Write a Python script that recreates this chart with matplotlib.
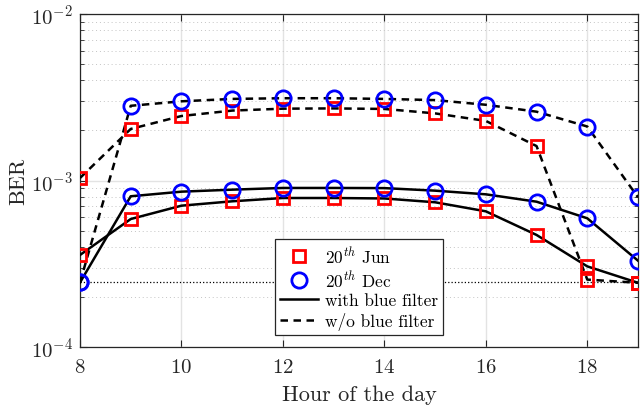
import matplotlib
matplotlib.use("Agg")
import matplotlib.pyplot as plt
import numpy as np
from matplotlib.ticker import LogLocator, NullFormatter, FixedLocator
from matplotlib.lines import Line2D

plt.rcParams['font.family'] = ['cmr10', 'DejaVu Serif']
plt.rcParams['mathtext.fontset'] = 'cm'
plt.rcParams['axes.unicode_minus'] = False
plt.rcParams['axes.formatter.use_mathtext'] = True

hours = [8, 9, 10, 11, 12, 13, 14, 15, 16, 17, 18, 19]
jun_with = [3.57e-4, 5.87e-4, 7.06e-4, 7.50e-4, 7.85e-4, 7.85e-4, 7.80e-4, 7.40e-4, 6.53e-4, 4.71e-4, 3.05e-4, 2.43e-4]
jun_without = [1.035e-3, 2.04e-3, 2.44e-3, 2.63e-3, 2.70e-3, 2.71e-3, 2.69e-3, 2.53e-3, 2.28e-3, 1.61e-3, 2.54e-4, 2.43e-4]
dec_with = [2.44e-4, 8.04e-4, 8.57e-4, 8.81e-4, 9.02e-4, 9.02e-4, 9.0e-4, 8.69e-4, 8.26e-4, 7.46e-4, 5.93e-4, 3.30e-4]
dec_without = [2.44e-4, 2.81e-3, 2.99e-3, 3.09e-3, 3.12e-3, 3.12e-3, 3.09e-3, 3.04e-3, 2.85e-3, 2.59e-3, 2.11e-3, 7.93e-4]
threshold = 2.44e-4
xticks = [8, 10, 12, 14, 16, 18]
legend_labels = [r'$20^{th}$ Jun', r'$20^{th}$ Dec', 'with blue filter', 'w/o blue filter']

fig = plt.figure(figsize=(6.4, 4.1), dpi=100)
ax = fig.add_axes([80/640, 1-348/410, 558/640, 333/410])

lw = 1.8
dash = (0, (3.0, 2.2))
ax.plot(hours, [threshold]*len(hours), color='black', ls=':', lw=0.9, zorder=2)

ax.plot(hours, jun_with, color='black', lw=lw, zorder=3)
ax.plot(hours, dec_with, color='black', lw=lw, zorder=3)
ax.plot(hours, jun_without, color='black', lw=lw, ls=dash, zorder=3)
ax.plot(hours, dec_without, color='black', lw=lw, ls=dash, zorder=3)

msq = dict(marker='s', ms=8.5, mfc='none', mec='#ff0000', mew=2, ls='none', zorder=4)
mci = dict(marker='o', ms=11, mfc='none', mec='#0000ff', mew=2, ls='none', zorder=4)
for series in (jun_with, jun_without):
    ax.plot(hours, series, **msq)
for series in (dec_with, dec_without):
    ax.plot(hours, series, **mci)

ax.set_yscale('log')
ax.set_xlim(8, 19)
ax.set_ylim(1e-4, 1e-2)
ax.xaxis.set_major_locator(FixedLocator(xticks))
ax.yaxis.set_major_locator(LogLocator(base=10, numticks=5))
ax.yaxis.set_minor_locator(LogLocator(base=10, subs=np.arange(2, 10), numticks=20))
ax.yaxis.set_minor_formatter(NullFormatter())

ax.grid(True, which='major', axis='x', color='#e3e3e3', lw=1.0, ls='-', zorder=0)
ax.grid(True, which='major', axis='y', color='#e3e3e3', lw=1.0, ls='-', zorder=0)
ax.grid(True, which='minor', axis='y', color='#c4c4c4', lw=0.7, ls=(0, (1, 3)), zorder=0)
ax.set_axisbelow(True)

ax.tick_params(which='both', direction='in', top=True, right=True, colors='#262626',
               labelcolor='#262626', labelsize=15)
ax.tick_params(which='major', length=5, width=0.8)
ax.tick_params(axis='x', which='major', pad=8)
ax.tick_params(axis='y', which='major', pad=5)
ax.tick_params(which='minor', length=3, width=0.6)
for s in ax.spines.values():
    s.set_color('#262626')
    s.set_linewidth(0.9)

ax.set_xlabel('Hour of the day', fontsize=16, color='#262626', labelpad=6)
ax.set_ylabel('BER', fontsize=16, color='#262626', labelpad=2)

handles = [
    Line2D([], [], marker='s', ms=8.5, mfc='none', mec='#ff0000', mew=2, ls='none'),
    Line2D([], [], marker='o', ms=11, mfc='none', mec='#0000ff', mew=2, ls='none'),
    Line2D([], [], color='black', lw=lw),
    Line2D([], [], color='black', lw=lw, ls=dash),
]
leg = ax.legend(handles, legend_labels, loc='lower center', bbox_to_anchor=(0.5, 0.036),
                fontsize=12.5, frameon=True, fancybox=False, edgecolor='#262626',
                framealpha=1, handlelength=2.2, handletextpad=0.4, borderpad=0.3,
                labelspacing=0.2, borderaxespad=0)
leg.get_frame().set_linewidth(0.9)

fig.savefig('out.png', dpi=100)
